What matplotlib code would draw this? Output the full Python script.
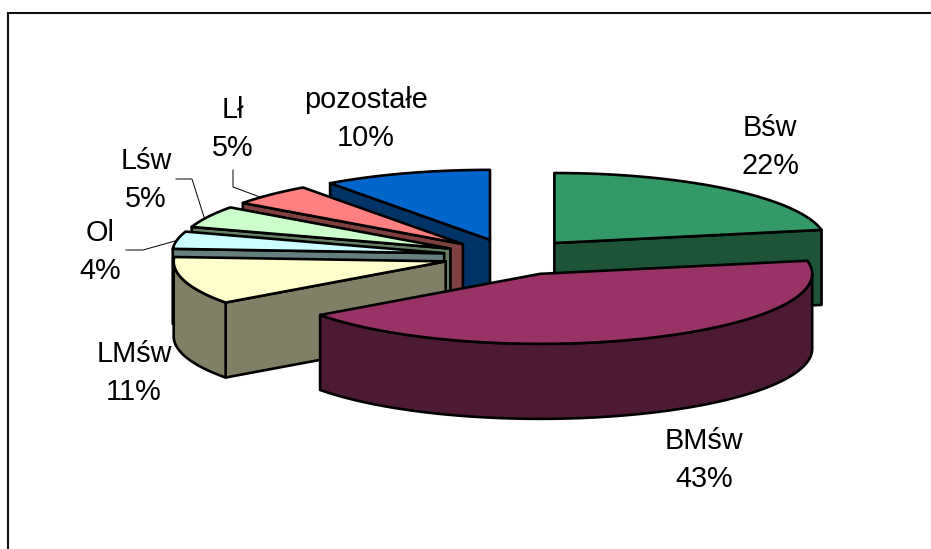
import numpy as np
import matplotlib
matplotlib.use('Agg')
import matplotlib.pyplot as plt

labels = ['Bśw', 'BMśw', 'LMśw', 'Ol', 'Lśw', 'Lł', 'pozostałe']
values = [22, 43, 11, 4, 5, 5, 10]
top_colors = ['#339966', '#993366', '#FFFFCC', '#CCFFFF', '#CCFFCC', '#FF8080', '#0066CC']
side_colors = ['#1D5337', '#4D1A33', '#808066', '#668080', '#668066', '#804040', '#003366']
explode = [0.25, 0.27, 0.25, 0.25, 0.25, 0.25, 0.25]
label_x = [770, 704, 134, 100, 146, 233, 366]
label_y = [147, 460, 373, 252, 180, 129, 119]
# order the slices get painted in, back to front
draw_order = [6, 5, 4, 3, 2, 0, 1]

cx, cy = 511, 256.5
rx, ry = 272, 70
depth = 75
edge = dict(edgecolor='black', linewidth=1.9, joinstyle='round')

leaders = [
    ([233, 233, 260], [170, 187, 197]),
    ([176, 192, 204], [179, 179, 217]),
    ([126, 143, 175], [250, 250, 241]),
]

plt.rcParams['font.family'] = ['Liberation Sans', 'DejaVu Sans']
fig = plt.figure(figsize=(9.31, 5.49), dpi=100)
ax = fig.add_axes([0, 0, 1, 1])
ax.set_xlim(0, 931)
ax.set_ylim(549, 0)
ax.axis('off')

# only the top and left side of the chart border are in frame
ax.plot([8, 8, 931], [549, 12.5, 12.5], color='#111111', lw=1.5, solid_joinstyle='miter')

angles = np.cumsum([0] + values) / sum(values) * 2 * np.pi


def rim(t, ax0, ay0):
    return ax0 + rx * np.sin(t), ay0 - ry * np.cos(t)


for i in draw_order:
    t0, t1 = angles[i], angles[i + 1]
    mid = (t0 + t1) / 2
    ax0 = cx + explode[i] * rx * np.sin(mid)
    ay0 = cy - explode[i] * ry * np.cos(mid)

    # flat cut faces, skipping the ones turned away from the viewer
    for t, visible in ((t0, np.sin(t0) < -1e-9), (t1, np.sin(t1) > 1e-9)):
        if visible:
            ex, ey = rim(t, ax0, ay0)
            ax.fill([ax0, ex, ex, ax0], [ay0, ey, ey + depth, ay0 + depth],
                    facecolor=side_colors[i], **edge)

    # outer wall, only the part facing the viewer
    lo, hi = max(t0, np.pi / 2), min(t1, 3 * np.pi / 2)
    if lo < hi:
        t = np.linspace(lo, hi, 120)
        wx, wy = rim(t, ax0, ay0)
        ax.fill(np.r_[wx, wx[::-1]], np.r_[wy, wy[::-1] + depth],
                facecolor=side_colors[i], **edge)

    # top face
    t = np.linspace(t0, t1, 160)
    tx, ty = rim(t, ax0, ay0)
    ax.fill(np.r_[ax0, tx], np.r_[ay0, ty], facecolor=top_colors[i], **edge)

for xs, ys in leaders:
    ax.plot(xs, ys, color='black', lw=0.7)

for name, val, x, y in zip(labels, values, label_x, label_y):
    ax.text(x, y, f'{name}\n{val}%', ha='center', va='center', fontsize=20.8,
            linespacing=1.42, color='black')

fig.savefig('out.png', dpi=100)
